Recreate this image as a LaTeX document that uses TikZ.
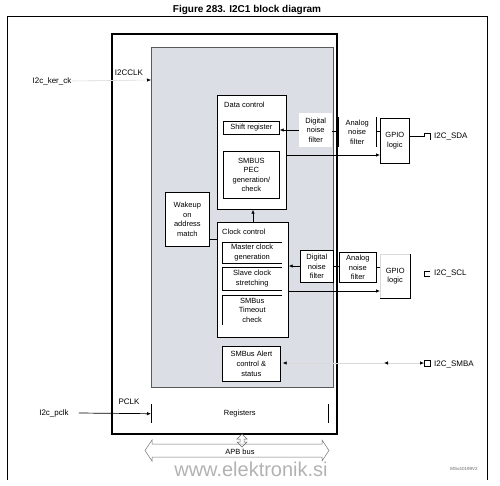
\documentclass[tikz,border=0pt]{standalone}
\usepackage{fontspec}
\setmainfont{Liberation Sans}
\usetikzlibrary{arrows.meta,calc}
\definecolor{shade}{RGB}{219,222,228}
\begin{document}
\begin{tikzpicture}[x=1pt,y=-1pt,
  txt/.style={font=\fontsize{7.5}{9.6}\selectfont, align=center, inner sep=0pt},
  lbl/.style={font=\fontsize{8}{9.6}\selectfont, inner sep=0pt},
  blk/.style={draw, fill=white, line width=0.7pt, inner sep=0pt, anchor=north west},
  ghost/.style={inner sep=0pt, anchor=north west},
  conn/.style={line width=0.7pt},
  arr/.style={conn, -{Latex[length=4pt,width=3.5pt]}},
  faint/.style={draw=black!15, line width=0.6pt},
  tip/.style={-{Latex[length=4pt,width=3.5pt,color=black]}},
]
\useasboundingbox (0,0) rectangle (500,485);
% title
\node[font=\fontsize{10}{12}\selectfont\bfseries, inner sep=0pt] (title) at (247,10) {Figure 283. I2C1 block diagram};
% outer frame
\draw[line width=0.8pt] (7,480) -- (7,16) -- (487,16) -- (487,480);
% peripheral frame and shaded core
\draw[line width=1.4pt] (112,34) rectangle (337,434);
\draw[fill=shade, draw=black!65, line width=0.5pt] (151,47) rectangle (333,387);

% data control
\node[blk, minimum width=69pt, minimum height=114pt] (dc) at (217,95) {};
\node[txt, anchor=west] (dclbl) at (224,105) {Data control};
\node[blk, minimum width=56pt, minimum height=13pt, txt] (sr) at (223,121) {Shift register};
\node[blk, minimum width=56pt, minimum height=47pt, txt] (pec) at (223,151) {SMBUS\\PEC\\generation/\\check};

% wakeup
\node[blk, minimum width=44pt, minimum height=54pt, txt] (wk) at (165,192) {Wakeup\\on\\address\\match};

% clock control
\node[blk, minimum width=71pt, minimum height=115pt] (cc) at (217,222) {};
\node[txt, anchor=west] (cclbl) at (222,232) {Clock control};
\node[ghost, minimum width=60pt, minimum height=21pt, txt] (mcg) at (222,242) {Master clock\\generation};
\draw[conn] (mcg.north east) -- (mcg.north west) -- (mcg.south west) -- (mcg.south east);
\node[ghost, minimum width=60pt, minimum height=23pt, txt] (scs) at (222,267) {Slave clock\\stretching};
\draw[conn] (scs.north east) -- (scs.north west) -- (scs.south west) -- (scs.south east);
\node[ghost, minimum width=60pt, minimum height=30pt, txt] (sto) at (222,295) {SMBus\\Timeout\\check};
\draw[conn] (sto.north east) -- (sto.north west) -- (sto.south west);

% SMBus alert
\node[blk, minimum width=58pt, minimum height=35pt, txt] (sa) at (222,346) {SMBus Alert\\control \&\\status};

% internal links
\draw[arr] (cc.north -| 253,0) -- (dc.south -| 253,0);
\draw[conn] (wk.east |- 0,239) -- (cc.west |- 0,239);

% top path (SDA)
\node[ghost, fill=white, minimum width=33pt, minimum height=34pt, txt] (dnf1) at (299,113) {Digital\\noise\\filter};
\node[ghost, minimum width=38pt, minimum height=30pt, txt] (anf1) at (338,117) {Analog\\noise\\filter};
\draw[conn] (anf1.north west) -- (anf1.south west);
\draw[conn] (anf1.north east) -- (anf1.south east);
\node[blk, minimum width=29pt, minimum height=45pt, txt] (gp1) at (380,118) {GPIO\\logic};
\draw[arr] (dnf1.west |- 0,130) -- (sr.east |- 0,130);
\draw[conn] (dnf1.east |- 0,131) -- (anf1.west |- 0,131);
\draw[conn] (anf1.east |- 0,131) -- (gp1.west |- 0,131);
\draw[arr] (dc.east |- 0,155) -- (gp1.west |- 0,155);
\coordinate (sdapin) at (424,136);
\draw[conn] (gp1.east |- sdapin) -- (sdapin) -- ++(0,-3) -- ++(6,0) -- ++(0,7);
\node[lbl, anchor=west] (sda) at (434,136) {I2C\_SDA};

% bottom path (SCL)
\node[blk, minimum width=33pt, minimum height=32pt, txt] (dnf2) at (300,250) {Digital\\noise\\filter};
\node[blk, minimum width=37pt, minimum height=30pt, txt] (anf2) at (339,252) {Analog\\noise\\filter};
\node[ghost, minimum width=30pt, minimum height=44pt, txt] (gp2) at (380,254) {GPIO\\logic};
\draw[faint] (gp2.south west) -- (gp2.north west) -- (gp2.north east);
\draw[conn] (gp2.north east) -- (gp2.south east) -- (gp2.south west);
\draw[arr] (dnf2.west |- 0,266) -- (cc.east |- 0,266);
\draw[conn] (dnf2.east |- 0,266) -- (anf2.west |- 0,266);
\draw[conn] (anf2.east |- 0,267) -- (gp2.west |- 0,267);
\draw[arr] (cc.east |- 0,291) -- (gp2.west |- 0,291);
\coordinate (sclpin) at (424,271);
\draw[line width=0.6pt] ($(sclpin)+(6,0)$) -- (sclpin) -- ++(0,5) -- ++(6,0);
\node[lbl, anchor=west] (scl) at (434,273) {I2C\_SCL};

% SMBA
\node[draw, line width=0.7pt, minimum width=6pt, minimum height=6pt, inner sep=0pt, anchor=west] (smbapin) at (424,363) {};
\draw[faint, tip] (smbapin.west) -- ([xshift=-40pt]smbapin.west);
\draw[faint] ([xshift=-40pt]smbapin.west) -- ([xshift=4pt]sa.east |- smbapin.west);
\draw[faint, tip] ([xshift=20pt]sa.east |- smbapin.west) -- ([xshift=2pt]sa.east |- smbapin.west);
\draw[conn, -{Latex[length=4pt,width=3.5pt]}] ([xshift=-4pt]smbapin.west) -- (smbapin.west);
\node[lbl, anchor=west] (smba) at (434,364) {I2C\_SMBA};

% clocks
\node[lbl] (kerck) at (52,81) {I2c\_ker\_ck};
\node[lbl] (i2cclk) at (129,73) {I2CCLK};
\draw[faint, tip] (kerck.east) -- (151,80);
\node[lbl] (pclklbl) at (54,413) {I2c\_pclk};
\node[lbl] (pclk) at (129,402) {PCLK};

% registers
\node[ghost, minimum width=177pt, minimum height=19pt, txt] (reg) at (151,404) {Registers};
\draw[conn] (reg.north west) -- (reg.south west);
\draw[conn] (reg.north east) -- (reg.south east);
\draw[arr] (pclklbl.east) ++(10,0) -- (reg.west);

% APB bus
\draw[line width=0.5pt, draw=black!60] (242,434) -- (247,439) -- (244,439) -- (244,442) -- (247,442) -- (242,447) -- (237,442) -- (240,442) -- (240,439) -- (237,439) -- cycle;
\draw[line width=0.5pt, draw=black!55] (152,444) -- (152,440) -- (145,450.5) -- (152,461) -- (152,457) -- (322,457) -- (322,461) -- (329,450.5) -- (322,440) -- (322,444) -- cycle;
\node[txt] (apb) at (240,452) {APB bus};

% watermark & code
\node[font=\fontsize{20}{22}\selectfont, text=black!30, inner sep=0pt] (wm) at (251,469) {www.elektronik.si};
\node[font=\fontsize{4.5}{5}\selectfont, text=black!60, inner sep=0pt] (code) at (464,469) {MSv40199V2};
\end{tikzpicture}
\end{document}
